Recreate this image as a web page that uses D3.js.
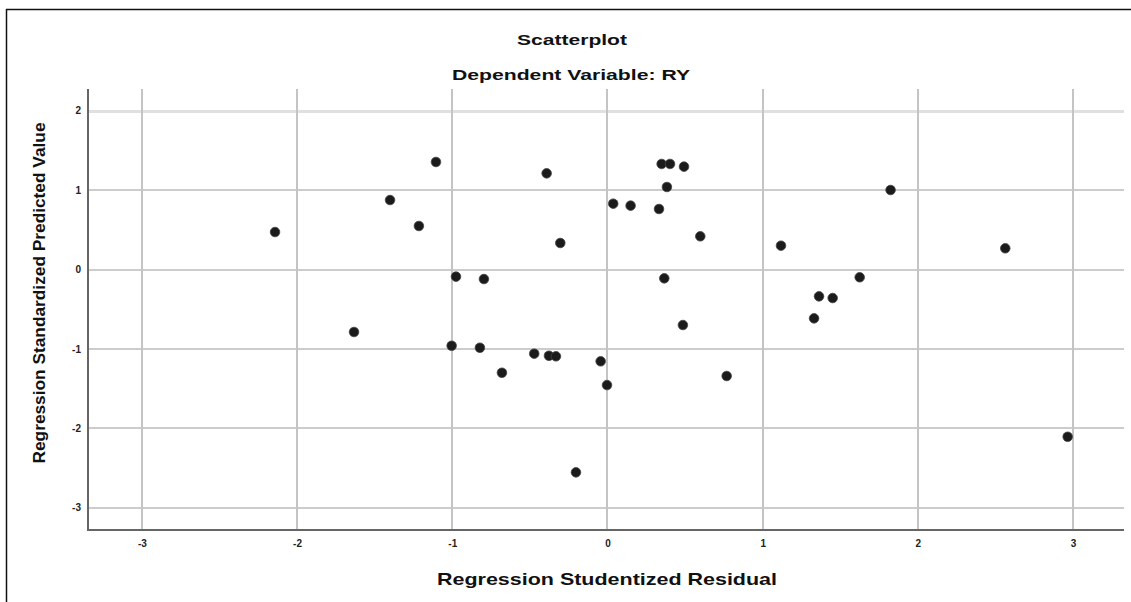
<!DOCTYPE html>
<html>
<head>
<meta charset="utf-8">
<script src="https://cdnjs.cloudflare.com/ajax/libs/d3/7.8.5/d3.min.js"></script>
<style>
  body { margin: 0; background: #fff; }
  svg { display: block; font-family: "Liberation Sans", Arial, sans-serif; }
  .grid line { shape-rendering: crispEdges; }
</style>
</head>
<body>
<script>
// Regression Studentized Residual (x) vs Regression Standardized Predicted Value (y)
var residual = [
  -2.142, -1.633, -1.401, -1.215, -1.105, -0.976, -0.796, -1.004, -0.822,
  -0.68, -0.472, -0.377, -0.332, -0.203, -0.044, -0.003, 0.366, 0.486,
  0.768, 1.118, 1.331, 1.363, 1.451, 1.625, 1.824, 2.563, 2.965,
  -0.392, -0.304, 0.037, 0.149, 0.332, 0.349, 0.403, 0.493, 0.383, 0.598
];
var predicted = [
  0.472, -0.787, 0.875, 0.548, 1.354, -0.09, -0.12, -0.96, -0.985,
  -1.3, -1.06, -1.086, -1.093, -2.554, -1.156, -1.455, -0.111, -0.699,
  -1.341, 0.3, -0.615, -0.338, -0.359, -0.098, 1.001, 0.267, -2.106,
  1.211, 0.334, 0.829, 0.804, 0.762, 1.329, 1.329, 1.295, 1.039, 0.418
];
var xTicks = [-3, -2, -1, 0, 1, 2, 3];
var yTicks = [2, 1, 0, -1, -2, -3];

var title = "Scatterplot";
var subtitle = "Dependent Variable: RY";
var xTitle = "Regression Studentized Residual";
var yTitle = "Regression Standardized Predicted Value";

var width = 1131;
var height = 602;
var plot = { left: 88, right: 1124, top: 89, bottom: 530 };

var points = residual.map(function(d, i) {
  return { x: d, y: predicted[i] };
});

var x = d3.scaleLinear().domain([-3.347, 3.328]).range([plot.left, plot.right]);
var y = d3.scaleLinear().domain([2.273, -3.28]).range([plot.top, plot.bottom]);

var svg = d3
  .select("body")
  .append("svg")
  .attr("width", width)
  .attr("height", height);

// outer frame (only left and top edges show)
svg.append("line")
  .attr("x1", 6.5).attr("x2", 6.5)
  .attr("y1", 9).attr("y2", height)
  .attr("stroke", "#111").attr("stroke-width", 1.5);
svg.append("line")
  .attr("x1", 6).attr("x2", width)
  .attr("y1", 9.5).attr("y2", 9.5)
  .attr("stroke", "#111").attr("stroke-width", 1.5);

// grid
var grid = svg.append("g").attr("class", "grid");

grid.selectAll("line.h")
  .data(yTicks)
  .enter()
  .append("line")
  .attr("class", "h")
  .attr("x1", plot.left)
  .attr("x2", plot.right)
  .attr("y1", function(d) { return Math.round(y(d)); })
  .attr("y2", function(d) { return Math.round(y(d)); })
  .attr("stroke", function(d) { return d === 2 ? "#e0e0e0" : "#cccccc"; })
  .attr("stroke-width", function(d) { return d === 2 ? 3 : 2; });

grid.selectAll("line.v")
  .data(xTicks)
  .enter()
  .append("line")
  .attr("class", "v")
  .attr("x1", function(d) { return Math.round(x(d)); })
  .attr("x2", function(d) { return Math.round(x(d)); })
  .attr("y1", plot.top)
  .attr("y2", plot.bottom)
  .attr("stroke", "#c4c4c4")
  .attr("stroke-width", 2);

// axes
var fmt = function(d) { return String(d); };
var xAxis = d3.axisBottom(x).tickValues(xTicks).tickSize(0).tickPadding(10)
  .tickFormat(fmt);
var yAxis = d3.axisLeft(y).tickValues(yTicks).tickSize(0).tickPadding(7)
  .tickFormat(fmt);

var gx = svg.append("g")
  .attr("transform", "translate(0," + plot.bottom + ")")
  .call(xAxis);
var gy = svg.append("g")
  .attr("transform", "translate(" + plot.left + ",0)")
  .call(yAxis);

[gx, gy].forEach(function(g) {
  g.select(".domain").remove();
  g.selectAll("text")
    .attr("font-family", "Liberation Sans, Arial, sans-serif")
    .attr("font-size", 10)
    .attr("font-weight", "bold")
    .attr("fill", "#222");
});

svg.append("line")
  .attr("x1", plot.left).attr("x2", plot.right)
  .attr("y1", plot.bottom).attr("y2", plot.bottom)
  .attr("stroke", "#666").attr("stroke-width", 2);
svg.append("line")
  .attr("x1", plot.left).attr("x2", plot.left)
  .attr("y1", plot.top).attr("y2", plot.bottom + 1)
  .attr("stroke", "#666").attr("stroke-width", 2);

// points
svg.append("g")
  .selectAll("circle")
  .data(points)
  .enter()
  .append("circle")
  .attr("cx", function(d) { return x(d.x); })
  .attr("cy", function(d) { return y(d.y); })
  .attr("r", 4.8)
  .attr("fill", "#1b1b1b")
  .attr("stroke", "#444")
  .attr("stroke-width", 0.8);

// titles
svg.append("text")
  .attr("x", 572).attr("y", 45)
  .attr("text-anchor", "middle")
  .attr("font-size", 15).attr("font-weight", "bold")
  .attr("textLength", 110).attr("lengthAdjust", "spacingAndGlyphs")
  .attr("fill", "#111")
  .text(title);

svg.append("text")
  .attr("x", 571).attr("y", 80)
  .attr("text-anchor", "middle")
  .attr("font-size", 15).attr("font-weight", "bold")
  .attr("textLength", 238).attr("lengthAdjust", "spacingAndGlyphs")
  .attr("fill", "#111")
  .text(subtitle);

svg.append("text")
  .attr("x", 607).attr("y", 585)
  .attr("text-anchor", "middle")
  .attr("font-size", 17).attr("font-weight", "bold")
  .attr("textLength", 340).attr("lengthAdjust", "spacingAndGlyphs")
  .attr("fill", "#111")
  .text(xTitle);

svg.append("text")
  .attr("transform", "translate(45,293) rotate(-90)")
  .attr("text-anchor", "middle")
  .attr("font-size", 16).attr("font-weight", "bold")
  .attr("textLength", 341).attr("lengthAdjust", "spacingAndGlyphs")
  .attr("fill", "#111")
  .text(yTitle);
</script>
</body>
</html>
